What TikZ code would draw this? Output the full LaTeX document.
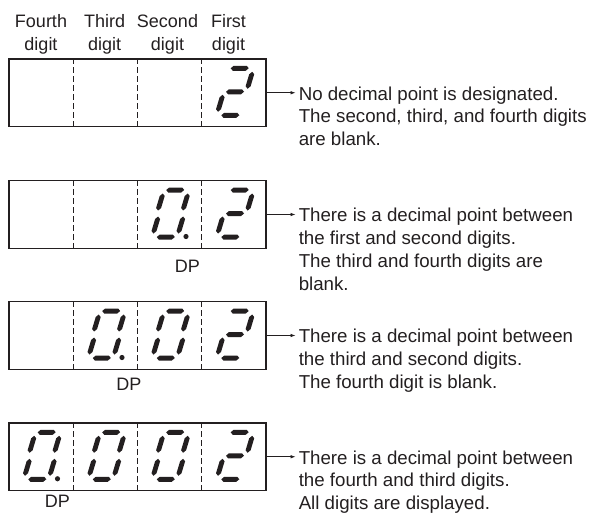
\documentclass[tikz,border=0pt]{standalone}
\usepackage{fontspec}
\setmainfont{Liberation Sans}
\usetikzlibrary{arrows.meta, positioning}
\definecolor{ink}{RGB}{35,31,32}

% one segment of a seven-segment digit
\newcommand{\hsegat}[1]{\fill[ink] (-9,#1) -- (-6.5,#1-2.5) -- (6.5,#1-2.5) -- (9,#1) -- (6.5,#1+2.5) -- (-6.5,#1+2.5) -- cycle;}
\newcommand{\vsegat}[2]{\fill[ink] (#1+.7,#2-8.5) -- (#1+3.2,#2-6) -- (#1+2,#2+6) -- (#1-.5,#2+8.5) -- (#1-3,#2+6) -- (#1-1.8,#2-6) -- cycle;}
\newcommand{\sega}{\hsegat{-23.5}}
\newcommand{\segb}{\vsegat{12.5}{-11.5}}
\newcommand{\segc}{\vsegat{12.5}{11.5}}
\newcommand{\segd}{\hsegat{23.5}}
\newcommand{\sege}{\vsegat{-12.5}{11.5}}
\newcommand{\segf}{\vsegat{-12.5}{-11.5}}
\newcommand{\segg}{\hsegat{0}}
% digit at x, y with the listed segments
\newcommand{\segdigit}[3]{%
  \begin{scope}[shift={(#1,#2)}, xslant=.2]
    \foreach \s in {#3} {\csname seg\s\endcsname}
  \end{scope}}

\begin{document}
\begin{tikzpicture}[
    x=1pt, y=-1pt,
    >={Latex[length=5pt,width=3.6pt]},
    every node/.style={font=\fontsize{18}{23}\selectfont, text=ink},
    display/.style={draw=ink, line width=1.1pt, minimum width=257pt, minimum height=67.5pt, inner sep=0pt},
    divider/.style={draw=ink, line width=0.9pt, dash pattern=on 5.5pt off 3.5pt},
    head/.style={align=center, inner sep=0pt, anchor=south},
    note/.style={align=left, inner sep=0pt, font=\fontsize{18.7}{22.8}\selectfont},
    pointer/.style={->, draw=ink, line width=0.8pt, shorten >=3pt}
]
\useasboundingbox (0,0) rectangle (589,514);

% column headings
\node[head] (h4) at (41,54) {Fourth\\digit};
\node[head] (h3) at (104.6,54) {Third\\digit};
\node[head] (h2) at (167.5,54) {Second\\digit};
\node[head] (h1) at (228.5,54) {First\\digit};

% the four displays
\node[display] (box1) at (137.5,92.75) {};
\node[display] (box2) at (137.5,214.5) {};
\node[display] (box3) at (137.5,335.5) {};
\node[display] (box4) at (137.5,456.75) {};

\foreach \b in {1,...,4}
    \foreach \k in {-64.25,0,64.25}
        \draw[divider] ([xshift=\k pt]box\b.north) -- ([xshift=\k pt]box\b.south);

% digits
\segdigit{235}{91.75}{a,b,g,e,d}

\segdigit{170.5}{213.5}{a,b,c,d,e,f}
\fill[ink] (170.5,213.5) ++(15.5,23) circle (2.6pt);
\segdigit{235}{213.5}{a,b,g,e,d}

\segdigit{106.5}{334.5}{a,b,c,d,e,f}
\fill[ink] (106.5,334.5) ++(15.5,23) circle (2.6pt);
\segdigit{170.5}{334.5}{a,b,c,d,e,f}
\segdigit{235}{334.5}{a,b,g,e,d}

\foreach \cx in {42,106.5,170.5}
    {\segdigit{\cx}{455.75}{a,b,c,d,e,f}}
\fill[ink] (42,455.75) ++(15.5,23) circle (2.6pt);
\segdigit{235}{455.75}{a,b,g,e,d}

% DP marks
\node (dp2) at (187.5,266) {DP};
\node (dp3) at (129,384) {DP};
\node (dp4) at (57.5,501) {DP};

% explanations
\node[note, below right=-6.5pt and 32pt of box1.east] (note1)
    {No decimal point is designated.\\The second, third, and fourth digits\\are blank.};
\node[note, below right=-6.5pt and 32pt of box2.east] (note2)
    {There is a decimal point between\\the first and second digits.\\The third and fourth digits are\\blank.};
\node[note, below right=-6.5pt and 32pt of box3.east] (note3)
    {There is a decimal point between\\the third and second digits.\\The fourth digit is blank.};
\node[note, below right=-6.5pt and 32pt of box4.east] (note4)
    {There is a decimal point between\\the fourth and third digits.\\All digits are displayed.};

\foreach \i in {1,...,4}
    \draw[pointer] (box\i.east) -- (box\i.east -| note\i.west);
\end{tikzpicture}
\end{document}
